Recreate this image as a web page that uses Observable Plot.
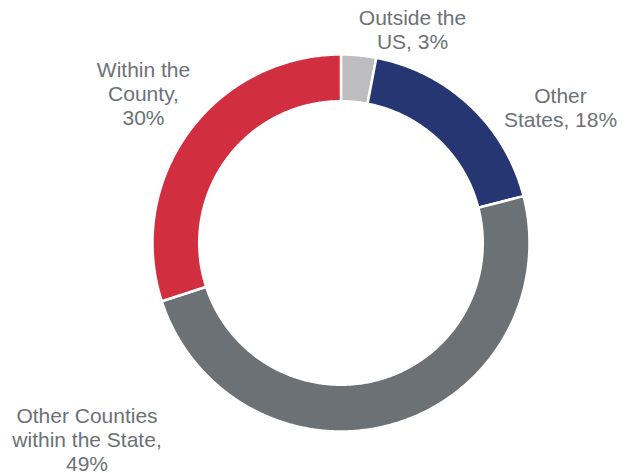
<!DOCTYPE html>
<html><head><meta charset="utf-8">
<script src="https://cdn.jsdelivr.net/npm/d3@7"></script>
<script src="https://cdn.jsdelivr.net/npm/@observablehq/plot@0.6"></script>
<style>html,body{margin:0;padding:0;background:#fff;} #chart{width:634px;height:473px;overflow:hidden;}</style>
</head><body><div id="chart"></div>
<script>
// ---- data ----
const categories = ["Outside the US", "Other States", "Other Counties within the State", "Within the County"];
const shares = [3, 18, 49, 30];
const labels = ["Outside the\nUS, 3%", "Other\nStates, 18%", "Other Counties\nwithin the State,\n49%", "Within the\nCounty,\n30%"];
const colors = ["#bdbdbf", "#253672", "#6c7176", "#d12f3f"];

// ---- layout (pixels) ----
const W = 634, H = 473, CX = 341, CY = 243, PX = 188.5, INNER = 0.752;
const labelPx = [[412, 29.3], [560, 106.8], [86.5, 439], [143, 93]];

const pie = d3.pie().sort(null).value(d => d)(shares);
const ring = [];
pie.forEach((p, i) => {
  const n = Math.max(8, Math.ceil((p.endAngle - p.startAngle) / (Math.PI / 360)));
  for (let k = 0; k <= n; k++) {
    const a = p.startAngle + (p.endAngle - p.startAngle) * k / n;
    ring.push({category: categories[i], x1: Math.sin(a), y1: Math.cos(a), x2: INNER * Math.sin(a), y2: INNER * Math.cos(a)});
  }
});
const labelRows = labels.map((t, i) => ({text: t, x: (labelPx[i][0] - CX) / PX, y: (CY - labelPx[i][1]) / PX}));

const chart = Plot.plot({
  width: W, height: H,
  marginLeft: CX - PX, marginRight: W - CX - PX, marginTop: CY - PX, marginBottom: H - CY - PX,
  x: {domain: [-1, 1], axis: null},
  y: {domain: [-1, 1], axis: null},
  color: {domain: categories, range: colors},
  style: {fontFamily: "'Liberation Sans', Arial, sans-serif", background: "white", overflow: "visible"},
  marks: [
    Plot.area(ring, {x1: "x1", y1: "y1", x2: "x2", y2: "y2", z: "category", fill: "category", stroke: "white", strokeWidth: 2.5}),
    Plot.text(labelRows, {x: "x", y: "y", text: "text", fill: "#6d7176", fontSize: 21, lineHeight: 1.143, textAnchor: "middle"})
  ]
});
document.getElementById("chart").appendChild(chart);
</script>
</body></html>
